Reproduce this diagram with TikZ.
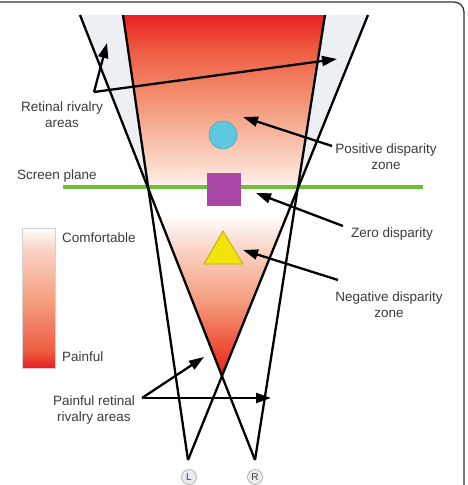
\documentclass[tikz,border=0pt]{standalone}
\usepackage{fontspec}
\setmainfont{Liberation Sans}
\usetikzlibrary{arrows.meta}
\definecolor{hotred}{RGB}{232,32,34}
\definecolor{orred}{RGB}{238,92,66}
\definecolor{salmonc}{RGB}{245,158,128}
\definecolor{palec}{RGB}{252,222,208}
\definecolor{pinkc}{RGB}{250,210,195}
\definecolor{txtgray}{RGB}{60,60,60}
\definecolor{hatchgray}{RGB}{236,239,243}
\definecolor{scrgreen}{RGB}{110,190,60}
\definecolor{cyanc}{RGB}{95,200,225}
\definecolor{magc}{RGB}{170,70,165}
\definecolor{yelc}{RGB}{242,228,10}
\definecolor{eyegray}{RGB}{232,236,240}
\pgfdeclareverticalshading{upperzone}{100bp}{color(0bp)=(white); color(28.8bp)=(white); color(35.3bp)=(palec); color(50.6bp)=(salmonc); color(66bp)=(orred); color(75bp)=(hotred); color(100bp)=(hotred)}
\pgfdeclareverticalshading{lowerzone}{100bp}{color(0bp)=(hotred); color(25bp)=(hotred); color(35.5bp)=(orred); color(47.2bp)=(salmonc); color(61.8bp)=(pinkc); color(72bp)=(white); color(100bp)=(white)}
\pgfdeclareverticalshading{legendbar}{100bp}{color(0bp)=(hotred); color(25bp)=(hotred); color(31bp)=(orred); color(49bp)=(salmonc); color(67bp)=(pinkc); color(75bp)=(white); color(100bp)=(white)}
\tikzset{
  eyeline/.style={line width=2.3pt, black},
  arr/.style={line width=2.3pt, black, -{Triangle[length=15pt,width=10pt]}},
  lbl/.style={font=\fontsize{13.5}{16}\selectfont, text=txtgray, align=center, inner sep=0pt},
  eyebox/.style={circle, draw=gray!70, fill=eyegray, line width=0.6pt, minimum size=15pt, inner sep=0pt, font=\fontsize{10}{10}\selectfont, text=txtgray}
}
\begin{document}
\begin{tikzpicture}[x=1pt,y=-1pt]
\useasboundingbox (0,0) rectangle (467,485);
\fill[white] (0,0) rectangle (467,485);
% frame
\draw[line width=1.3pt, black!80, rounded corners=10pt] (-2,2) -- (464,2) -- (464,487);
% key coordinates
\coordinate (eyeL) at (188,460);
\coordinate (eyeR) at (255,460);
\coordinate (a1) at (80,15);
\coordinate (a2) at (123,15);
\coordinate (a3) at (325,15);
\coordinate (a4) at (368,15);
\coordinate (xl) at (148,187);
\coordinate (xr) at (298,187);
\coordinate (apex) at (222,376);
% red comfort zone
\begin{scope}
  \clip (a2) -- (a3) -- (xr) -- (apex) -- (xl) -- cycle;
  \shade[shading=upperzone] (100,15) rectangle (350,210);
  \shade[shading=lowerzone] (100,205) rectangle (350,376);
\end{scope}
% retinal rivalry areas
\fill[hatchgray] (a1) -- (a2) -- (xl) -- cycle;
\fill[hatchgray] (a3) -- (a4) -- (xr) -- cycle;
% screen plane
\draw[scrgreen, line width=3.5pt] (63,187) -- (423,187);
% objects
\draw[fill=cyanc, draw=cyanc!80!black, line width=0.5pt] (223,135) circle (14);
\fill[magc] (207,173) rectangle (241,206);
\draw[fill=yelc, draw=yelc!75!black, line width=0.8pt] (223,231) -- (243,264) -- (204,264) -- cycle;
% eye lines
\draw[eyeline] (eyeR) -- (a1);
\draw[eyeline] (eyeL) -- (a2);
\draw[eyeline] (eyeR) -- (a3);
\draw[eyeline] (eyeL) -- (a4);
% eyes
\node[eyebox] (L) at (189,477) {L};
\node[eyebox] (R) at (255,477) {R};
% legend
\shade[shading=legendbar] (22,228) rectangle (55,368);
\draw[gray!35, line width=0.6pt] (22,228) rectangle (55,368);
\node[lbl, anchor=west] (comf) at (62,238) {Comfortable};
\node[lbl, anchor=west] (pain) at (62,357) {Painful};
% labels
\node[lbl] (rra) at (62,115) {Retinal rivalry\\areas};
\node[lbl, anchor=west] (scr) at (17,176) {Screen plane};
\node[lbl] (pos) at (386,157) {Positive disparity\\zone};
\node[lbl] (zero) at (392,234) {Zero disparity};
\node[lbl] (neg) at (389,305) {Negative disparity\\zone};
\node[lbl] (prra) at (94,410) {Painful retinal\\rivalry areas};
% arrows
\coordinate (v1) at (94,92);
\coordinate (t1a) at (107,43);
\coordinate (t1b) at (337,59);
\draw[arr] (v1) -- (t1a);
\draw[arr] (v1) -- (t1b);
\coordinate (s2) at (332,146);
\coordinate (t2) at (243,117);
\draw[arr] (s2) -- (t2);
\coordinate (s3) at (343,226);
\coordinate (t3) at (256,193);
\draw[arr] (s3) -- (t3);
\coordinate (s4) at (338,280);
\coordinate (t4) at (243,250);
\draw[arr] (s4) -- (t4);
\coordinate (v5) at (142,398);
\coordinate (t5a) at (204,357);
\coordinate (t5b) at (271,398);
\draw[arr] (v5) -- (t5a);
\draw[arr] (v5) -- (t5b);
\end{tikzpicture}
\end{document}
